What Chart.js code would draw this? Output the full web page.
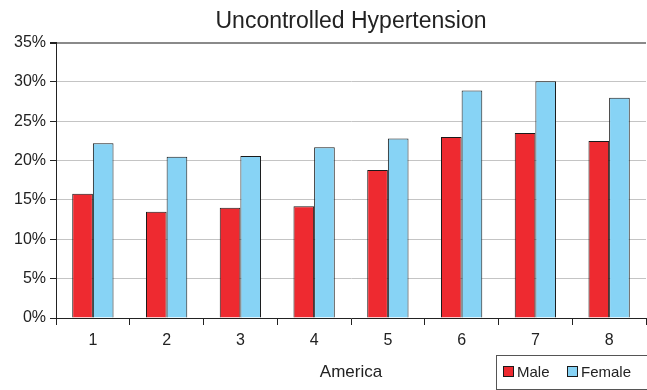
<!DOCTYPE html>
<html>
<head>
<meta charset="utf-8">
<script src="https://cdn.jsdelivr.net/npm/chart.js@4/dist/chart.umd.min.js"></script>
<style>
  html, body { margin: 0; padding: 0; background: #fff; }
  #wrap { width: 647px; height: 390px; }
</style>
</head>
<body>
<div id="wrap"><canvas id="c" width="647" height="390"></canvas></div>
<script>
// Share of people with uncontrolled hypertension, by region and sex (%)
const categories = ['1', '2', '3', '4', '5', '6', '7', '8'];
const maleValues = [15.8, 13.5, 14.0, 14.2, 18.8, 23.0, 23.5, 22.5];
const femaleValues = [22.2, 20.5, 20.6, 21.7, 22.8, 28.9, 30.1, 28.0];
const seriesNames = ['Male', 'Female'];
const yTicks = [0, 5, 10, 15, 20, 25, 30, 35];

const FONT = "'Liberation Sans', Arial, Helvetica, sans-serif";
const RED = '#ee2a30';
const BLUE = '#87d3f5';
const EDGE = '#1a1a1a';

// Boxed legend in the lower-right corner, beside the axis title
const cornerLegend = {
  id: 'cornerLegend',
  afterDraw(chart) {
    const ctx = chart.ctx;
    const x0 = 496.5, y0 = 355.5, w = 160, h = 34;
    ctx.save();
    ctx.strokeStyle = '#555';
    ctx.lineWidth = 1;
    ctx.strokeRect(x0, y0, w, h);
    ctx.font = '15px ' + FONT;
    ctx.textBaseline = 'middle';
    const items = chart.data.datasets.map(ds => ({ label: ds.label, color: ds.backgroundColor }));
    const xs = [503, 567];
    items.forEach((it, i) => {
      const sx = xs[i];
      ctx.fillStyle = it.color;
      ctx.fillRect(sx + 0.5, 366.5, 10, 10);
      ctx.strokeStyle = EDGE;
      ctx.strokeRect(sx + 0.5, 366.5, 10, 10);
      ctx.fillStyle = '#222';
      ctx.fillText(it.label, sx + 14, 372.5);
    });
    ctx.restore();
  }
};

new Chart(document.getElementById('c'), {
  type: 'bar',
  data: {
    labels: categories,
    datasets: [
      { label: seriesNames[0], data: maleValues, backgroundColor: RED, borderColor: EDGE, borderWidth: 1, inflateAmount: 0 },
      { label: seriesNames[1], data: femaleValues, backgroundColor: BLUE, borderColor: EDGE, borderWidth: 1, inflateAmount: 0 }
    ]
  },
  options: {
    responsive: false,
    animation: false,
    devicePixelRatio: 1,
    layout: { padding: { left: 0, right: 1, top: 0, bottom: 0 } },
    datasets: { bar: { categoryPercentage: 0.56, barPercentage: 1.0 } },
    plugins: {
      legend: { display: false },
      tooltip: { enabled: false },
      title: {
        display: true,
        text: 'Uncontrolled Hypertension',
        fullSize: false,
        color: '#222',
        font: { family: FONT, size: 23, weight: 'normal' },
        padding: { top: 8, bottom: 7 }
      }
    },
    scales: {
      x: {
        afterFit(scale) { scale.height = 72; },
        grid: {
          offset: true,
          drawOnChartArea: false,
          drawTicks: true,
          tickLength: 7,
          tickColor: '#222'
        },
        border: { color: '#222', width: 1 },
        ticks: {
          color: '#222',
          padding: 6,
          font: { family: FONT, size: 16 }
        },
        title: {
          display: true,
          text: 'America',
          color: '#222',
          font: { family: FONT, size: 17 },
          padding: { top: 0, bottom: 7 }
        }
      },
      y: {
        min: 0,
        max: 35,
        afterFit(scale) { scale.width = 56; },
        afterBuildTicks(scale) { scale.ticks = yTicks.map(v => ({ value: v })); },
        grid: {
          color: ctx => (ctx.tick && ctx.tick.value === 35 ? '#8a8a8a' : '#c4c4c4'),
          lineWidth: ctx => (ctx.tick && ctx.tick.value === 35 ? 2 : 1),
          tickColor: '#222',
          tickLength: 6
        },
        border: { color: '#222', width: 1 },
        ticks: {
          color: '#222',
          padding: 4,
          font: { family: FONT, size: 16 },
          callback: v => v + '%'
        }
      }
    }
  },
  plugins: [cornerLegend]
});
</script>
</body>
</html>
